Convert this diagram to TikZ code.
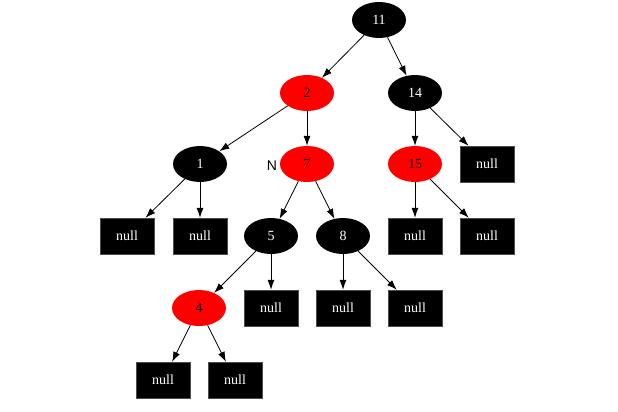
\documentclass[tikz,border=0pt]{standalone}
\usepackage{fontspec}
\setmainfont{Liberation Serif}
\newfontfamily\labfont{Liberation Sans}
\usetikzlibrary{shapes.geometric,arrows.meta}
\begin{document}
\begin{tikzpicture}[x=1pt,y=-1pt,
  every node/.style={font=\fontsize{14}{16}\selectfont},
  bnode/.style={ellipse,fill=black,text=white,minimum width=54pt,minimum height=36pt,inner sep=0pt},
  rnode/.style={ellipse,fill=red,text=black,minimum width=54pt,minimum height=36pt,inner sep=0pt},
  nbox/.style={rectangle,fill=black,draw=black!70,text=white,minimum width=54pt,minimum height=36pt,inner sep=0pt},
  edge/.style={draw=black,line width=0.8pt,-{Latex[length=10pt,width=7pt]}}]
\useasboundingbox (0,0) rectangle (618,412);
\node[bnode] (n11) at (379,20) {11};
\node[rnode] (n2) at (307,93) {2};
\node[bnode] (n14) at (415,93) {14};
\node[bnode] (n1) at (200,164) {1};
\node[rnode] (n7) at (307,164) {7};
\node[font=\labfont\fontsize{14}{16}\selectfont] (lN) at (272,166) {N};
\node[rnode] (n15) at (415,164) {15};
\node[nbox] (z14) at (487,164) {null};
\node[nbox] (z1a) at (127,236) {null};
\node[nbox] (z1b) at (200,236) {null};
\node[bnode] (n5) at (271,236) {5};
\node[bnode] (n8) at (343,236) {8};
\node[nbox] (z15a) at (415,236) {null};
\node[nbox] (z15b) at (487,236) {null};
\node[rnode] (n4) at (199,308) {4};
\node[nbox] (z5) at (271,308) {null};
\node[nbox] (z8a) at (343,308) {null};
\node[nbox] (z8b) at (415,308) {null};
\node[nbox] (z4a) at (163,380) {null};
\node[nbox] (z4b) at (235,380) {null};
\path[edge] (n11) -- (n2);
\path[edge] (n11) -- (n14);
\path[edge] (n2) -- (n1);
\path[edge] (n2) -- (n7);
\path[edge] (n14) -- (n15);
\path[edge] (n14) -- (z14);
\path[edge] (n1) -- (z1a);
\path[edge] (n1) -- (z1b);
\path[edge] (n7) -- (n5);
\path[edge] (n7) -- (n8);
\path[edge] (n15) -- (z15a);
\path[edge] (n15) -- (z15b);
\path[edge] (n5) -- (n4);
\path[edge] (n5) -- (z5);
\path[edge] (n8) -- (z8a);
\path[edge] (n8) -- (z8b);
\path[edge] (n4) -- (z4a);
\path[edge] (n4) -- (z4b);
\end{tikzpicture}
\end{document}
